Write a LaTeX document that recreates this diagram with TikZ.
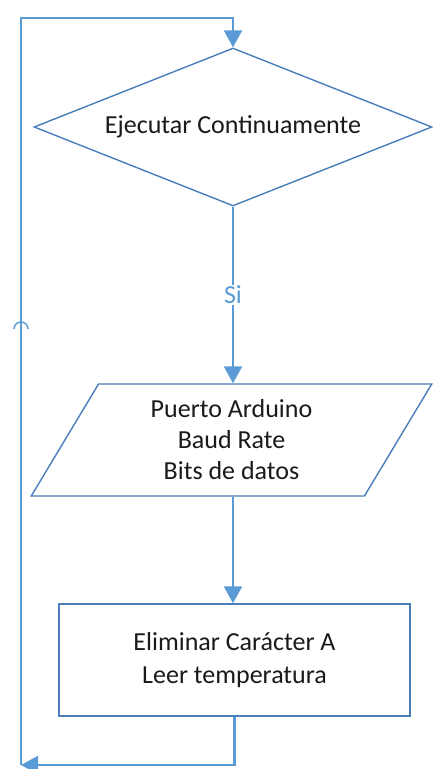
\documentclass[tikz,border=0pt]{standalone}
\usepackage{fontspec}
\setmainfont{Carlito}
\usetikzlibrary{shapes.geometric,arrows.meta}
\definecolor{shapeblue}{HTML}{4A7EBB}
\definecolor{lineblue}{HTML}{5B9BD5}
\definecolor{txt}{HTML}{1A1A1A}
\begin{document}
\begin{tikzpicture}[x=1pt,y=-1pt,
  every node/.style={font=\fontsize{26}{31}\selectfont, text=txt, align=center},
  shp/.style={draw=shapeblue, line width=1.4pt, fill=white},
  conn/.style={draw=lineblue, line width=2.2pt, -{Triangle[width=18pt,length=17pt]}},
  plain/.style={draw=lineblue, line width=2pt}]
\useasboundingbox (0,0) rectangle (432,769);
\node[shp, diamond, aspect=2.5, minimum width=398pt, minimum height=158pt, inner sep=0pt] (dec) at (233,127) {Ejecutar Continuamente};
\node[shp, trapezium, trapezium left angle=63, trapezium right angle=117, trapezium stretches=true, minimum width=401pt, minimum height=112pt, inner sep=0pt] (par) at (231.5,440) {Puerto Arduino\\Baud Rate\\Bits de datos};
\node[shp, rectangle, minimum width=351pt, minimum height=112pt, inner sep=0pt, font=\fontsize{26}{33}\selectfont] (rec) at (234.5,660) {Eliminar Carácter A\\Leer temperatura};
\coordinate (tl) at (21,18);
\coordinate (bl) at (21,765);
\draw[conn] (dec.south) -- node[fill=white, text=lineblue, inner sep=0.5pt, pos=0.5] (si) {Si} (dec.south |- par.north);
\draw[conn] (dec.south |- par.south) -- (dec.south |- rec.north);
\draw[conn] (rec.south) |- (bl);
\draw[conn] (bl) -- (tl) -| (dec.north);
\draw[plain, line width=1.5pt] (14,329) arc[start angle=180, end angle=360, radius=7];
\end{tikzpicture}
\end{document}
